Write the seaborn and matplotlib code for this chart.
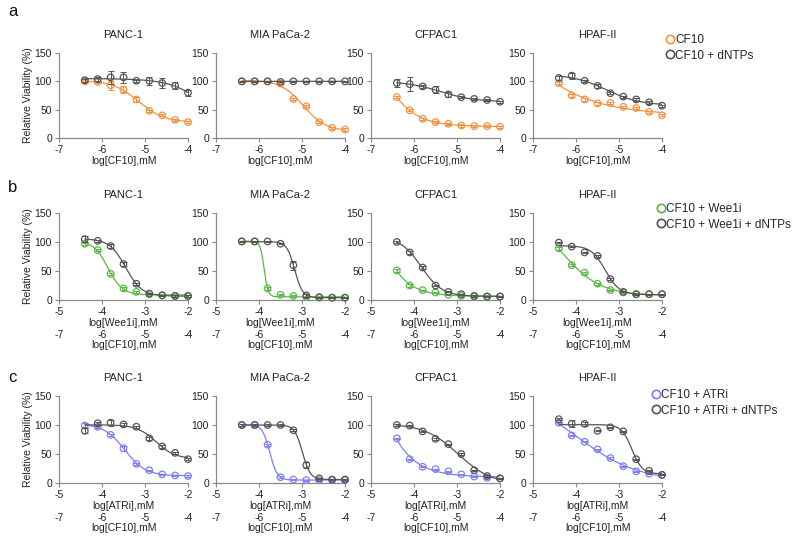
import numpy as np
import pandas as pd
import matplotlib
matplotlib.use("Agg")
import matplotlib.pyplot as plt
from matplotlib.lines import Line2D
import seaborn as sns

sns.set_style("ticks")
plt.rcParams["font.family"] = ["Liberation Sans", "DejaVu Sans"]

# doses (log mM)
conc_cf10 = [-6.4, -6.1, -5.8, -5.5, -5.2, -4.9, -4.6, -4.3, -4.0]
conc_inh = [-4.4, -4.1, -3.8, -3.5, -3.2, -2.9, -2.6, -2.3, -2.0]
cells = ["PANC-1", "MIA PaCa-2", "CFPAC1", "HPAF-II"]

# row a: CF10 / CF10 + dNTPs
a_cf10 = [[100, 99, 93, 85, 68, 48, 40, 32, 28],
          [100, 100, 100, 96, 69, 56, 28, 18, 15],
          [72, 49, 34, 28, 25, 22, 21, 21, 20],
          [97, 75, 68, 61, 62, 55, 53, 46, 40]]
a_cf10_err = [[3, 2, 8, 6, 4, 2, 2, 2, 2],
              [1, 1, 1, 1, 2, 2, 2, 2, 2],
              [2, 2, 2, 2, 2, 2, 2, 2, 2],
              [2, 2, 2, 2, 2, 2, 2, 2, 2]]
a_dntp = [[102, 104, 107, 107, 101, 101, 97, 92, 80],
          [100, 100, 100, 99, 100, 100, 100, 100, 100],
          [97, 95, 91, 85, 77, 72, 69, 67, 64],
          [106, 110, 101, 92, 79, 73, 68, 63, 57]]
a_dntp_err = [[3, 3, 12, 10, 2, 7, 9, 6, 5],
              [1, 1, 1, 1, 1, 1, 1, 1, 1],
              [7, 12, 3, 6, 5, 2, 2, 2, 2],
              [3, 5, 2, 3, 2, 2, 2, 3, 2]]

# row b: CF10 + Wee1i / CF10 + Wee1i + dNTPs
b_wee1 = [[97, 86, 45, 20, 14, 10, 8, 7, 7],
          [101, 101, 20, 9, 7, 5, 4, 4, 4],
          [51, 25, 17, 13, 9, 7, 6, 6, 6],
          [89, 60, 47, 28, 17, 13, 10, 10, 10]]
b_wee1_err = [[2, 2, 2, 2, 2, 1, 1, 1, 1],
              [1, 1, 2, 1, 1, 1, 1, 1, 1],
              [2, 2, 1, 1, 1, 1, 1, 1, 1],
              [2, 2, 2, 2, 1, 1, 1, 1, 1]]
b_dntp = [[105, 102, 93, 62, 28, 11, 8, 7, 7],
          [101, 101, 101, 97, 60, 8, 5, 4, 4],
          [100, 82, 56, 25, 14, 10, 7, 6, 6],
          [99, 92, 82, 76, 36, 14, 10, 10, 10]]
b_dntp_err = [[5, 2, 4, 3, 2, 1, 1, 1, 1],
              [1, 1, 1, 1, 8, 2, 1, 1, 1],
              [1, 2, 2, 1, 1, 1, 1, 1, 1],
              [1, 1, 1, 1, 2, 1, 1, 1, 1]]

# row c: CF10 + ATRi / CF10 + ATRi + dNTPs
c_atr = [[99, 97, 83, 60, 33, 22, 15, 13, 12],
         [100, 100, 66, 10, 6, 5, 5, 5, 5],
         [77, 41, 28, 24, 20, 15, 11, 9, 8],
         [104, 82, 71, 58, 43, 29, 20, 16, 14]]
c_atr_err = [[5, 2, 2, 4, 2, 1, 1, 1, 1],
             [1, 1, 2, 2, 1, 1, 1, 1, 1],
             [1, 1, 1, 1, 1, 1, 1, 1, 1],
             [1, 1, 1, 1, 1, 1, 1, 1, 1]]
c_dntp = [[90, 103, 104, 101, 97, 77, 63, 52, 41],
          [100, 100, 100, 100, 91, 31, 8, 6, 6],
          [100, 99, 89, 76, 67, 50, 22, 12, 8],
          [110, 102, 102, 90, 96, 89, 41, 21, 14]]
c_dntp_err = [[4, 3, 5, 2, 2, 2, 2, 2, 2],
              [1, 1, 1, 1, 2, 5, 1, 1, 1],
              [1, 1, 1, 1, 1, 1, 1, 1, 1],
              [2, 6, 3, 1, 1, 1, 1, 1, 1]]

ORANGE = "#f5923e"
GREEN = "#5cb946"
BLUE = "#7f80f2"
GREY = "#555555"
AXC = "#8a8a8a"


def fit4pl(x, y):
    # least-squares 4PL fit: grid over logEC50/hill, linear solve for top/bottom
    x = np.asarray(x, float)
    y = np.asarray(y, float)
    cs = np.arange(x.min() - 2.0, x.max() + 2.0, 0.01)
    hs = np.arange(0.3, 10.0, 0.05)
    C, H = np.meshgrid(cs, hs)
    C = C.ravel()[:, None]
    H = H.ravel()[:, None]
    F = 1.0 / (1.0 + 10 ** (H * (x[None, :] - C)))
    G = 1.0 - F
    a11 = (G * G).sum(1)
    a12 = (G * F).sum(1)
    a22 = (F * F).sum(1)
    r1 = (G * y).sum(1)
    r2 = (F * y).sum(1)
    det = a11 * a22 - a12 ** 2
    ok = det > 1e-6
    det = np.where(ok, det, 1.0)
    bot = (a22 * r1 - a12 * r2) / det
    top = (a11 * r2 - a12 * r1) / det
    res = ((bot[:, None] * G + top[:, None] * F - y) ** 2).sum(1)
    res = np.where(ok, res, np.inf)
    i = np.argmin(res)
    return bot[i], top[i], C[i, 0], H[i, 0]


def curve(x, p):
    bot, top, c, h = p
    return bot + (top - bot) / (1.0 + 10 ** (h * (x - c)))


def draw_series(ax, x, y, err, color, z):
    xs = np.linspace(min(x), max(x), 200)
    fit = pd.DataFrame({"x": xs, "y": curve(xs, fit4pl(x, y))})
    sns.lineplot(data=fit, x="x", y="y", ax=ax, color=color, lw=0.9, zorder=z)
    ax.errorbar(x, y, yerr=err, fmt="none", ecolor=color, elinewidth=0.7,
                capsize=2, capthick=0.7, zorder=z, clip_on=False)
    sns.scatterplot(x=x, y=y, ax=ax, marker="o", s=22, facecolor="none",
                    edgecolor=color, linewidth=0.9, zorder=z + 0.5, clip_on=False)


fig = plt.figure(figsize=(8, 5.38), dpi=100)
W, Hf = 800.0, 538.0
lefts = [59, 216, 371, 533]
rows = [
    dict(bottom=138, top=53, x=conc_cf10, xlim=(-7, -4), xlabel="log[CF10],mM",
         s1=a_cf10, e1=a_cf10_err, c1=ORANGE, s2=a_dntp, e2=a_dntp_err,
         labels=["CF10", "CF10 + dNTPs"], letter="a", ly=12, leg=(666, 34), second=False),
    dict(bottom=300, top=213, x=conc_inh, xlim=(-5, -2), xlabel="log[Wee1i],mM",
         s1=b_wee1, e1=b_wee1_err, c1=GREEN, s2=b_dntp, e2=b_dntp_err,
         labels=["CF10 + Wee1i", "CF10 + Wee1i + dNTPs"], letter="b", ly=187, leg=(657, 203), second=True),
    dict(bottom=483, top=396, x=conc_inh, xlim=(-5, -2), xlabel="log[ATRi],mM",
         s1=c_atr, e1=c_atr_err, c1=BLUE, s2=c_dntp, e2=c_dntp_err,
         labels=["CF10 + ATRi", "CF10 + ATRi + dNTPs"], letter="c", ly=377, leg=(652, 389), second=True),
]

for r in rows:
    for j, cell in enumerate(cells):
        ax = fig.add_axes([lefts[j] / W, 1 - r["bottom"] / Hf, 129 / W,
                           (r["bottom"] - r["top"]) / Hf])
        draw_series(ax, r["x"], r["s1"][j], r["e1"][j], r["c1"], 3)
        draw_series(ax, r["x"], r["s2"][j], r["e2"][j], GREY, 4)
        ax.set_xlim(*r["xlim"])
        ax.set_ylim(0, 150)
        ax.set_xticks(np.arange(r["xlim"][0], r["xlim"][1] + 1))
        ax.set_yticks([0, 50, 100, 150])
        ax.set_xticklabels([str(int(v)) for v in ax.get_xticks()])
        sns.despine(ax=ax)
        for s in ("left", "bottom"):
            ax.spines[s].set_color(AXC)
            ax.spines[s].set_linewidth(0.9)
        ax.tick_params(length=3, width=0.8, color=AXC, labelsize=7.5, pad=2,
                       labelcolor="#222222")
        ax.set_xlabel(r["xlabel"], fontsize=7.5, labelpad=1, color="#222222")
        ax.set_ylabel("Relative Viability (%)" if j == 0 else "", fontsize=7.5,
                      labelpad=1, color="#222222")
        ax.set_title(cell, fontsize=8, pad=11, color="#222222")
        if r["second"]:
            sec = ax.secondary_xaxis(-0.33, functions=(lambda v: v - 2, lambda v: v + 2))
            sec.set_xticks([-7, -6, -5, -4])
            sec.set_xticklabels(["-7", "-6", "-5", "-4"])
            sec.spines["bottom"].set_visible(False)
            sec.tick_params(length=0, labelsize=7.5, pad=1, labelcolor="#222222")
            sec.set_xlabel("log[CF10],mM", fontsize=7.5, labelpad=0, color="#222222")

    fig.text(8 / W, 1 - r["ly"] / Hf, r["letter"], fontsize=12, va="center",
             ha="left", color="#111111")
    handles = [Line2D([], [], marker="o", ls="none", mfc="none", mec=c, ms=6, mew=1.2)
               for c in (r["c1"], GREY)]
    fig.legend(handles, r["labels"], loc="upper left",
               bbox_to_anchor=(r["leg"][0] / W, 1 - r["leg"][1] / Hf),
               frameon=False, fontsize=8.5, handlelength=0.6, handletextpad=0.2,
               labelspacing=0.3, borderpad=0, borderaxespad=0)

fig.savefig("out.png", dpi=100)
